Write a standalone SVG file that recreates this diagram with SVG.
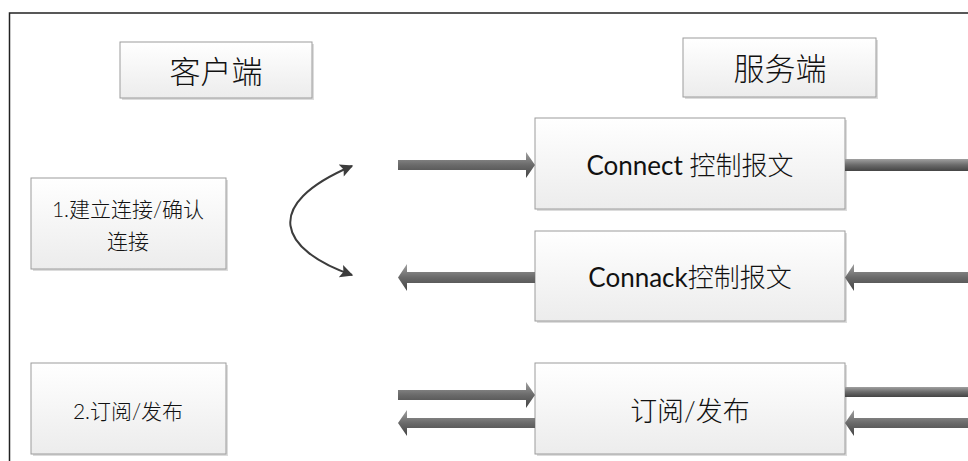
<svg xmlns="http://www.w3.org/2000/svg" width="968" height="461" viewBox="0 0 968 461">
<style>
.box{fill:url(#boxg);stroke:#9c9c9c;stroke-width:1}
.shadow{fill:#dcdcdc}
.t{font-family:"Lato","Noto Sans CJK SC",sans-serif;fill:#111;text-anchor:middle;dominant-baseline:central}
.c{font-weight:300}
.fat{fill:url(#arrg)}
.curve{fill:none;stroke:#3c3c3c;stroke-width:2;marker-start:url(#hs);marker-end:url(#he)}
</style>
<defs>
<linearGradient id="boxg" x1="0" y1="0" x2="0" y2="1">
<stop offset="0" stop-color="#ffffff"/>
<stop offset="1" stop-color="#ececec"/>
</linearGradient>
<linearGradient id="arrg" x1="0" y1="0" x2="0" y2="1">
<stop offset="0" stop-color="#a0a0a0"/>
<stop offset="0.5" stop-color="#6a6a6a"/>
<stop offset="1" stop-color="#444444"/>
</linearGradient>
<marker id="he" viewBox="0 0 10 10" refX="9" refY="5" markerWidth="15" markerHeight="13" orient="auto" markerUnits="userSpaceOnUse">
<path d="M0,0 L10,5 L0,10 L2,5 z" fill="#3c3c3c"/>
</marker>
<marker id="hs" viewBox="0 0 10 10" refX="1" refY="5" markerWidth="15" markerHeight="13" orient="auto" markerUnits="userSpaceOnUse">
<path d="M10,0 L0,5 L10,10 L8,5 z" fill="#3c3c3c"/>
</marker>
</defs>
<rect x="9.5" y="13" width="975" height="470" fill="#fff" stroke="#222" stroke-width="1.5"/>

<g id="client">
<rect class="shadow" x="122" y="44" width="192" height="56"/>
<rect class="box" x="120" y="42" width="192" height="56"/>
<text class="t c" x="216" y="71" font-size="31">客户端</text>
</g>
<g id="server">
<rect class="shadow" x="685" y="40" width="193" height="59"/>
<rect class="box" x="683" y="38" width="193" height="59"/>
<text class="t c" x="780" y="68" font-size="31">服务端</text>
</g>
<g id="step1">
<rect class="shadow" x="33" y="180" width="195" height="91"/>
<rect class="box" x="31" y="178" width="195" height="91"/>
<text class="t c" x="128" y="208" font-size="21">1.建立连接/确认</text>
<text class="t c" x="128" y="240" font-size="21">连接</text>
</g>
<g id="step2">
<rect class="shadow" x="33" y="365" width="195" height="91"/>
<rect class="box" x="31" y="363" width="195" height="91"/>
<text class="t c" x="128" y="410" font-size="21">2.订阅/发布</text>
</g>
<g id="connect">
<rect class="shadow" x="537" y="120" width="310" height="91"/>
<rect class="box" x="535" y="118" width="310" height="91"/>
<text class="t" x="690" y="165" font-size="26">Connect <tspan class="c">控制报文</tspan></text>
</g>
<g id="connack">
<rect class="shadow" x="537" y="233" width="310" height="90"/>
<rect class="box" x="535" y="231" width="310" height="90"/>
<text class="t" x="690" y="277" font-size="26">Connack<tspan class="c">控制报文</tspan></text>
</g>
<g id="pubsub">
<rect class="shadow" x="537" y="365" width="310" height="91"/>
<rect class="box" x="535" y="363" width="310" height="91"/>
<text class="t c" x="690" y="410" font-size="27">订阅/发布</text>
</g>

<g id="connectors">
<path class="curve" d="M352,166 C260,205 280,250 352,275"/>
<polygon class="fat" points="398,160 526,160 526,152 535,165 526,178 526,170 398,170"/>
<polygon class="fat" points="845,159 970,159 970,171 845,171"/>
<polygon class="fat" points="535,272 407,272 407,264 398,277.5 407,291 407,283 535,283"/>
<polygon class="fat" points="970,272 854,272 854,264 845,277.5 854,291 854,283 970,283"/>
<polygon class="fat" points="398,390 526,390 526,382 535,395 526,408 526,400 398,400"/>
<polygon class="fat" points="535,418 407,418 407,410 398,423 407,436 407,428 535,428"/>
<polygon class="fat" points="845,387 970,387 970,397 845,397"/>
<polygon class="fat" points="970,418 854,418 854,410 845,423 854,436 854,428 970,428"/>
</g>
</svg>
